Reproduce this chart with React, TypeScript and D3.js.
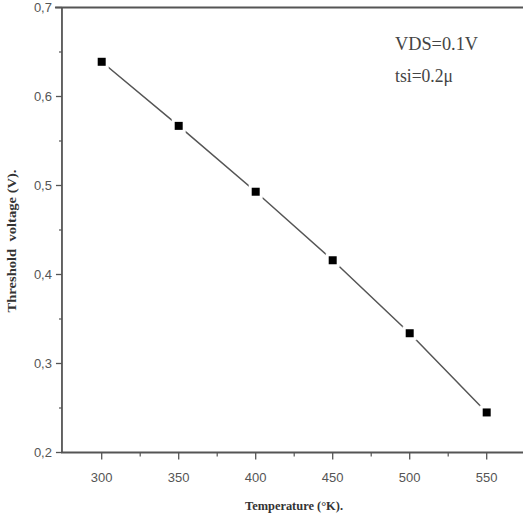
import React from "react";
import * as d3 from "d3";

const temperatures = [300, 350, 400, 450, 500, 550];
const thresholdVoltage = [0.639, 0.567, 0.493, 0.416, 0.334, 0.245];
const xTicks = [300, 350, 400, 450, 500, 550];
const xMinorTicks = [325, 375, 425, 475, 525];
const yTicks = [0.2, 0.3, 0.4, 0.5, 0.6, 0.7];
const yMinorTicks = [0.25, 0.35, 0.45, 0.55, 0.65];
const annotationLines = ["VDS=0.1V", "tsi=0.2\u03bc"];

export default function App() {
  const W = 523;
  const H = 519;
  const x = d3.scaleLinear().domain([300, 550]).range([101.7, 486.7]);
  const y = d3.scaleLinear().domain([0.2, 0.7]).range([452.5, 7.5]);
  const x0 = x(274.2);
  const xEnd = W + 2;
  const axisColor = "#555";
  const fmt = (v: number) => v.toFixed(1).replace(".", ",");
  const line = d3
    .line<number>()
    .x((_, i) => x(temperatures[i]))
    .y((d) => y(d));

  return (
    <svg
      width={W}
      height={H}
      style={{ position: "absolute", left: 0, top: 0, background: "#fff" }}
    >
      <rect width={W} height={H} fill="#fff" />
      {/* line */}
      <path d={line(thresholdVoltage) || ""} fill="none" stroke="#555" strokeWidth={1.5} />
      {/* markers */}
      {thresholdVoltage.map((v, i) => (
        <rect
          key={i}
          x={x(temperatures[i]) - 4}
          y={y(v) - 4}
          width={8}
          height={8}
          fill="#000"
          stroke="#fff"
          strokeWidth={6}
          paintOrder="stroke"
        />
      ))}
      {/* axes */}
      <line x1={x0} x2={x0} y1={y(0.7)} y2={y(0.2) + 0.5} stroke={axisColor} strokeWidth={1.8} />
      <line x1={x0 - 0.9} x2={xEnd} y1={y(0.2)} y2={y(0.2)} stroke={axisColor} strokeWidth={1.8} />
      <line x1={x0 - 7} x2={xEnd} y1={y(0.7)} y2={y(0.7)} stroke={axisColor} strokeWidth={1.8} />
      {yTicks.map((t) => (
        <g key={"yt" + t}>
          <line x1={x0 - 6} x2={x0} y1={y(t)} y2={y(t)} stroke={axisColor} strokeWidth={1.3} />
          <text
            x={x0 - 10}
            y={y(t) + 4.5}
            textAnchor="end"
            fontFamily="Liberation Sans, Arial, sans-serif"
            fontSize={13}
            fill="#555"
          >
            {fmt(t)}
          </text>
        </g>
      ))}
      {yMinorTicks.map((t) => (
        <line key={"ym" + t} x1={x0 - 3} x2={x0} y1={y(t)} y2={y(t)} stroke={axisColor} strokeWidth={1.2} />
      ))}
      {xTicks.map((t) => (
        <g key={"xt" + t}>
          <line x1={x(t)} x2={x(t)} y1={y(0.2)} y2={y(0.2) + 7} stroke={axisColor} strokeWidth={1.3} />
          <text
            x={x(t)}
            y={y(0.2) + 29}
            textAnchor="middle"
            fontFamily="Liberation Sans, Arial, sans-serif"
            fontSize={13}
            fill="#555"
          >
            {t}
          </text>
        </g>
      ))}
      {xMinorTicks.map((t) => (
        <line key={"xm" + t} x1={x(t)} x2={x(t)} y1={y(0.2)} y2={y(0.2) + 4} stroke={axisColor} strokeWidth={1.2} />
      ))}
      {/* axis titles */}
      <text
        x={294}
        y={510}
        textAnchor="middle"
        fontFamily="Liberation Serif, Times New Roman, serif"
        fontSize={12}
        fontWeight="bold"
        fill="#333"
        textLength={98}
        lengthAdjust="spacingAndGlyphs"
      >
        Temperature (°K).
      </text>
      <text
        transform={`translate(16, 241) rotate(-90)`}
        textAnchor="middle"
        fontFamily="Liberation Serif, Times New Roman, serif"
        fontSize={12}
        fontWeight="bold"
        fill="#333"
        textLength={143}
        lengthAdjust="spacingAndGlyphs"
        style={{ whiteSpace: "pre" }}
      >
        {"Threshold  voltage (V)."}
      </text>
      {/* annotation */}
      <text
        x={395}
        y={50}
        fontFamily="Liberation Serif, Times New Roman, serif"
        fontSize={18}
        fill="#444"
        textLength={83}
        lengthAdjust="spacingAndGlyphs"
      >
        {annotationLines[0]}
      </text>
      <text
        x={395}
        y={82}
        fontFamily="Liberation Serif, Times New Roman, serif"
        fontSize={18}
        fill="#444"
        textLength={58}
        lengthAdjust="spacingAndGlyphs"
      >
        {annotationLines[1]}
      </text>
    </svg>
  );
}
